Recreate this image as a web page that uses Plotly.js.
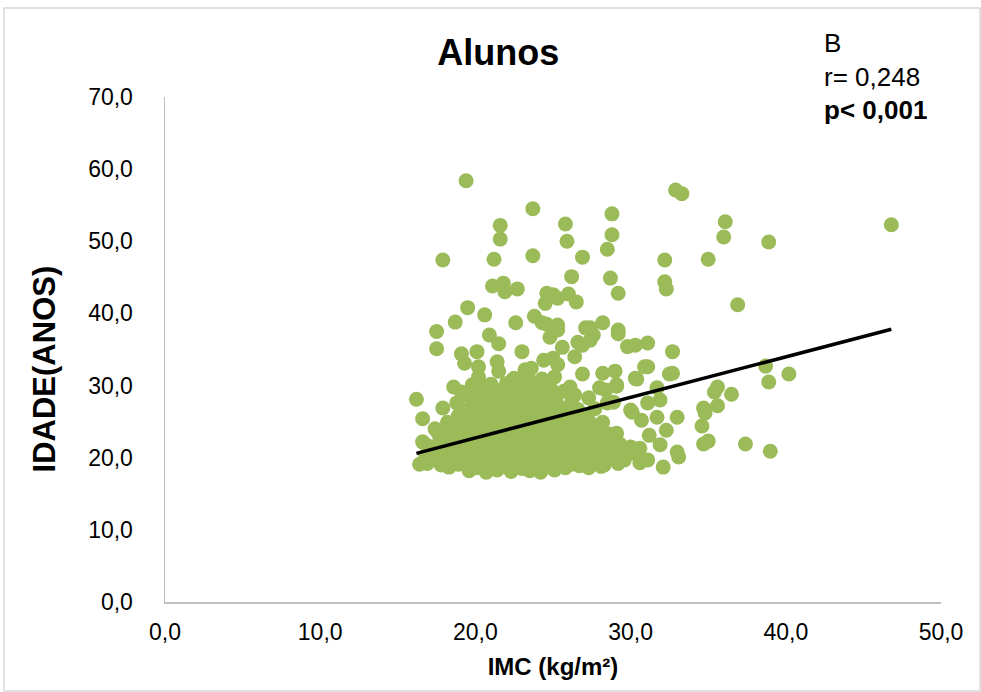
<!DOCTYPE html>
<html>
<head>
<meta charset="utf-8">
<script src="https://cdn.plot.ly/plotly-3.0.1.min.js"></script>
<style>
  html, body { margin: 0; padding: 0; background: #ffffff; }
  #chart { width: 981px; height: 692px; }
</style>
</head>
<body>
<div id="chart"></div>
<script>
// IMC (kg/m²) values
const imc = [
  // sparse / outer points
  19.4, 23.7, 32.9, 33.3, 46.8, 21.6, 25.8, 28.8, 36.1, 36.0,
  38.9, 21.6, 25.9, 28.8, 23.7, 17.9, 21.2, 26.9, 35.0, 32.2,
  28.5, 26.2, 28.7, 32.2, 32.3, 21.1, 21.8, 21.9, 22.7, 24.6,
  24.5, 25.3, 25.0, 26.0, 26.5, 29.2, 36.9, 19.5, 20.6, 18.7,
  22.6, 23.8, 24.6, 17.5, 25.3, 27.4, 28.2, 29.2, 17.5, 20.9,
  21.5, 19.1, 20.1, 19.3, 20.2, 21.4, 23.0, 24.4, 25.0, 24.8,
  25.3, 24.3, 20.2, 21.5, 18.6, 19.8, 20.7, 16.2, 16.6, 17.9,
  19.1, 16.6, 16.4, 17.6, 29.2, 31.1, 29.8, 30.3, 32.7, 30.9,
  32.5, 30.4, 29.1, 29.0, 28.2, 26.9, 26.1, 28.0, 31.7, 31.9,
  31.1, 30.1, 30.7, 31.7, 33.0, 34.7, 34.6, 34.7, 29.1, 30.0,
  30.6, 31.2, 32.3, 31.9, 33.0, 33.1, 32.1, 31.1, 30.6, 29.6,
  27.4, 26.9, 26.6, 26.4, 25.6, 27.1, 27.6, 25.0, 25.3, 27.3,
  28.4, 28.5, 30.0, 38.7, 38.9, 40.2, 35.6, 35.4, 36.5, 34.8,
  35.6, 35.0, 37.4, 39.0, 22.4, 23.2, 23.6, 31.1, 30.3, 32.7,
  29.1,
  // dense cluster
  19.6, 20.7, 21.4, 22.3, 23.5, 24.2, 25.1,
  18.3, 20.1, 21.9, 23.0, 24.6, 25.8, 26.7, 27.3, 28.1,
  16.9, 17.8, 18.9, 19.8, 20.5, 21.2, 22.6, 23.4, 24.0, 25.3, 26.2, 27.6, 28.3, 29.2,
  17.3, 18.4, 19.4, 20.9, 21.7, 22.9, 23.8, 24.7, 25.6, 26.9, 27.8, 28.8,
  16.8, 17.9, 18.7, 19.5, 20.2, 21.0, 21.8, 22.5, 23.2, 24.3, 25.0, 25.9, 26.5, 27.2, 28.5, 29.6, 30.3,
  17.5, 18.2, 19.1, 20.0, 20.8, 21.5, 22.2, 23.0, 23.9, 24.8, 25.5, 26.3, 27.0, 27.9, 29.0,
  16.9, 18.0, 18.9, 19.7, 20.4, 21.3, 22.0, 22.8, 23.6, 24.4, 25.2, 26.1, 26.8, 27.5, 28.4, 29.3,
  17.7, 18.6, 19.3, 20.1, 21.1, 21.8, 22.6, 23.3, 24.1, 24.9, 25.7, 26.6, 27.3, 28.0, 28.9,
  18.1, 19.0, 19.9, 20.6, 21.4, 22.3, 23.1, 23.8, 24.6, 25.4, 26.2, 27.1, 27.8, 28.6,
  17.4, 18.5, 19.5, 20.3, 21.2, 22.0, 22.7, 23.5, 24.3, 25.0, 25.9, 26.7, 27.5,
  18.2, 19.2, 20.0, 20.9, 21.6, 22.4, 23.2, 24.0, 24.8, 25.6, 26.4, 27.3, 28.2,
  18.9, 19.8, 20.6, 21.4, 22.2, 23.0, 23.7, 24.5, 25.3, 26.1, 27.0,
  19.5, 20.4, 21.2, 22.0, 22.9, 23.8, 24.6, 25.5, 26.6, 27.7,
  18.8, 20.1, 21.0, 21.9, 22.7, 23.5, 24.4, 25.2, 26.2, 28.9,
  19.6, 20.7, 21.6, 22.5, 23.3, 24.2, 25.0, 26.4,
  20.3, 21.3, 22.3, 23.1, 24.0, 24.9, 25.7,
  21.0, 22.0, 22.8, 23.7, 24.5,
  22.5, 23.4, 24.3, 25.1
];

// IDADE (anos) values, same order as imc
const idade = [
  58.4, 54.5, 57.1, 56.6, 52.3, 52.2, 52.4, 53.8, 52.7, 50.6,
  49.9, 50.3, 50.0, 50.9, 48.0, 47.4, 47.5, 47.8, 47.5, 47.4,
  48.9, 45.1, 44.9, 44.4, 43.4, 43.8, 44.2, 43.0, 43.4, 42.8,
  41.4, 42.1, 42.6, 42.7, 41.6, 42.8, 41.2, 40.8, 39.8, 38.8,
  38.7, 39.6, 38.5, 37.5, 38.4, 38.0, 38.7, 37.7, 35.1, 37.0,
  35.8, 34.4, 34.7, 33.1, 32.6, 33.3, 34.7, 33.5, 33.8, 36.7,
  37.7, 38.7, 31.2, 32.0, 29.8, 30.1, 29.8, 28.1, 25.4, 26.9,
  29.1, 22.2, 19.1, 23.4, 37.2, 35.9, 35.4, 35.6, 34.7, 32.6,
  31.6, 30.9, 29.9, 32.0, 31.7, 31.6, 29.8, 29.7, 29.7, 28.0,
  27.6, 26.3, 25.2, 25.6, 25.6, 26.9, 24.4, 21.9, 23.4, 21.5,
  21.3, 23.1, 23.8, 21.8, 20.8, 20.1, 18.7, 19.7, 19.3, 19.7,
  36.3, 35.6, 36.0, 34.0, 35.3, 38.0, 37.0, 38.1, 32.9, 28.3,
  29.4, 27.6, 26.6, 32.7, 30.5, 31.6, 29.8, 29.1, 28.8, 26.2,
  27.2, 22.3, 21.9, 20.9, 30.8, 32.2, 32.4, 32.6, 31.0, 31.7,
  30.1,
  18.2, 18.0, 18.3, 18.1, 18.2, 18.0, 18.3,
  18.7, 18.6, 18.8, 18.5, 18.7, 18.6, 18.9, 18.6, 18.8,
  19.2, 19.0, 19.1, 19.3, 19.0, 19.2, 19.1, 19.3, 19.0, 19.2, 19.1, 19.3, 19.0, 19.2,
  19.8, 19.6, 19.7, 19.9, 19.6, 19.8, 19.7, 19.9, 19.6, 19.8, 19.7, 19.9,
  20.3, 20.4, 20.2, 20.5, 20.3, 20.4, 20.2, 20.5, 20.3, 20.4, 20.2, 20.5, 20.3, 20.4, 20.2, 20.5, 20.6,
  21.0, 21.1, 20.9, 21.2, 21.0, 21.1, 20.9, 21.2, 21.0, 21.1, 20.9, 21.2, 21.0, 21.1, 20.9,
  21.7, 21.8, 21.6, 21.9, 21.7, 21.8, 21.6, 21.9, 21.7, 21.8, 21.6, 21.9, 21.7, 21.8, 21.6, 21.9,
  22.4, 22.5, 22.3, 22.6, 22.4, 22.5, 22.3, 22.6, 22.4, 22.5, 22.3, 22.6, 22.4, 22.5, 22.3,
  23.2, 23.3, 23.1, 23.4, 23.2, 23.3, 23.1, 23.4, 23.2, 23.3, 23.1, 23.4, 23.2, 23.3,
  24.0, 24.1, 23.9, 24.2, 24.0, 24.1, 23.9, 24.2, 24.0, 24.1, 23.9, 24.2, 24.0,
  24.9, 25.0, 24.8, 25.1, 24.9, 25.0, 24.8, 25.1, 24.9, 25.0, 24.8, 25.1, 24.9,
  25.8, 25.9, 25.7, 26.0, 25.8, 25.9, 25.7, 26.0, 25.8, 25.9, 25.7,
  26.7, 26.8, 26.6, 26.9, 26.7, 26.8, 26.6, 26.9, 26.7, 26.8,
  27.6, 27.7, 27.5, 27.8, 27.6, 27.7, 27.5, 27.8, 27.6, 27.7,
  28.5, 28.6, 28.4, 28.7, 28.5, 28.6, 28.4, 28.7,
  29.3, 29.4, 29.2, 29.5, 29.3, 29.4, 29.2,
  30.2, 30.3, 30.1, 30.4, 30.2,
  31.0, 31.1, 30.9, 31.2
];

// Linear trend line coefficients
const trendIntercept = 11.5;
const trendSlope = 0.562;

// Axis ticks
const xTicks = [0, 10, 20, 30, 40, 50];
const yTicks = [0, 10, 20, 30, 40, 50, 60, 70];

// Text
const chartTitle = 'Alunos';
const xTitle = 'IMC (kg/m²)';
const yTitle = 'IDADE(ANOS)';
const noteLines = ['B', 'r= 0,248', '<b>p< 0,001</b>'];

const xMin = Math.min(...imc), xMax = Math.max(...imc);
const trendX = [xMin, xMax];
const trendY = trendX.map(v => trendIntercept + trendSlope * v);

const font = 'Liberation Sans, Arial, Helvetica, sans-serif';

const traces = [
  {
    type: 'scatter', mode: 'markers', x: imc, y: idade,
    marker: { color: '#9BBB59', size: 15, line: { width: 0 } },
    hoverinfo: 'x+y', showlegend: false
  },
  {
    type: 'scatter', mode: 'lines', x: trendX, y: trendY,
    line: { color: '#000000', width: 3.5 },
    hoverinfo: 'skip', showlegend: false
  }
];

const noteY = [1.107, 1.040, 0.974];
const annotations = noteLines.map((t, i) => ({
  text: t, xref: 'paper', yref: 'paper', x: 0.847, y: noteY[i],
  xanchor: 'left', yanchor: 'middle', showarrow: false,
  font: { family: font, size: 26, color: '#000000' }
}));
// y-axis title placed as rotated annotation for exact position
annotations.push({
  text: '<b>' + yTitle + '</b>', xref: 'paper', yref: 'paper',
  x: -0.155, y: 0.462, xanchor: 'center', yanchor: 'middle',
  textangle: -90, showarrow: false,
  font: { family: font, size: 31, color: '#000000' }
});

const layout = {
  width: 981, height: 692,
  margin: { l: 165, r: 40, t: 97, b: 90, autoexpand: false },
  paper_bgcolor: '#ffffff', plot_bgcolor: '#ffffff',
  separators: ',.',
  font: { family: font, color: '#000000' },
  title: {
    text: '<b>' + chartTitle + '</b>',
    font: { family: font, size: 36, color: '#000000' },
    xref: 'container', yref: 'container', x: 0.508, y: 0.925,
    xanchor: 'center', yanchor: 'middle'
  },
  xaxis: {
    range: [0, 50], tickvals: xTicks, tickformat: '.1f',
    showgrid: false, zeroline: false,
    showline: true, linecolor: '#BFBFBF', linewidth: 1.5,
    ticks: '', ticklabelstandoff: 9,
    tickfont: { family: font, size: 23, color: '#000000' },
    title: { text: '<b>' + xTitle + '</b>', standoff: 14,
             font: { family: font, size: 24, color: '#000000' } },
    fixedrange: true
  },
  yaxis: {
    range: [0, 70], tickvals: yTicks, tickformat: '.1f',
    showgrid: false, zeroline: false,
    showline: true, linecolor: '#BFBFBF', linewidth: 1.5,
    ticks: '', ticklabelstandoff: 26,
    tickfont: { family: font, size: 23, color: '#000000' },
    fixedrange: true
  },
  annotations: annotations,
  shapes: [{
    type: 'rect', xref: 'paper', yref: 'paper',
    x0: -0.2075, x1: 1.0503, y0: -0.176, y1: 1.176,
    line: { color: '#D9D9D9', width: 1.5 }, layer: 'below'
  }]
};

Plotly.newPlot('chart', traces, layout, { displayModeBar: false, staticPlot: true });
</script>
</body>
</html>
